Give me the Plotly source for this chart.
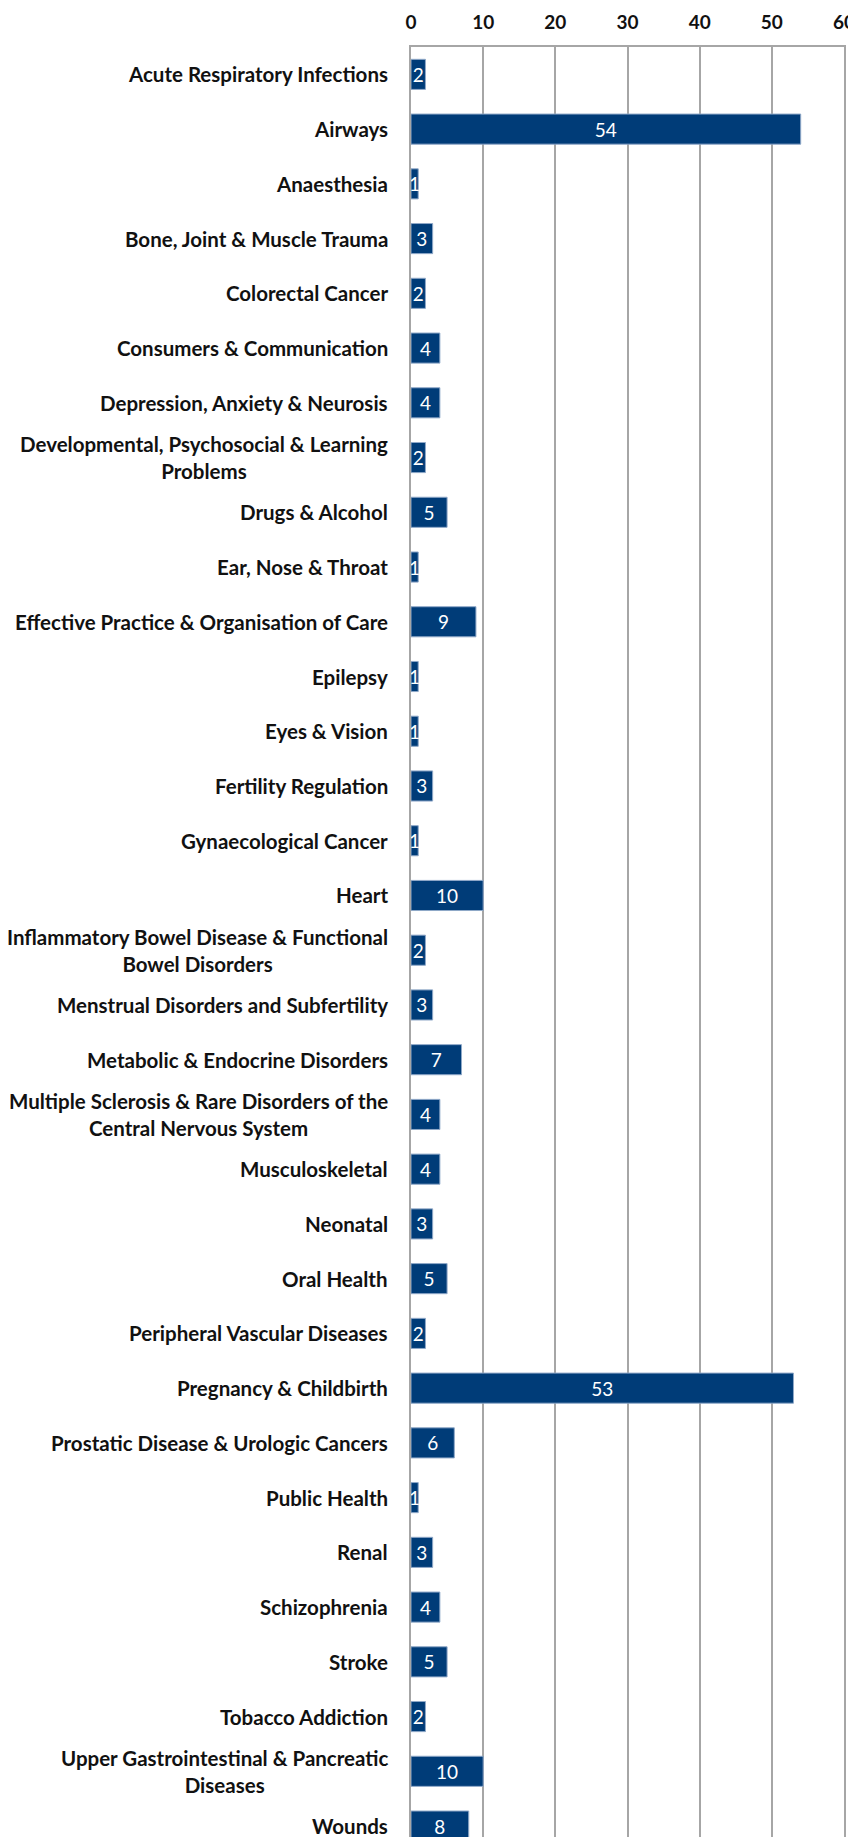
import plotly.graph_objects as go

# categories (top to bottom) and counts
groups = [
    "Acute Respiratory Infections",
    "Airways",
    "Anaesthesia",
    "Bone, Joint & Muscle Trauma",
    "Colorectal Cancer",
    "Consumers & Communication",
    "Depression, Anxiety & Neurosis",
    "Developmental, Psychosocial & Learning<br>Problems",
    "Drugs & Alcohol",
    "Ear, Nose & Throat",
    "Effective Practice & Organisation of Care",
    "Epilepsy",
    "Eyes & Vision",
    "Fertility Regulation",
    "Gynaecological Cancer",
    "Heart",
    "Inflammatory Bowel Disease & Functional<br>Bowel Disorders",
    "Menstrual Disorders and Subfertility",
    "Metabolic & Endocrine Disorders",
    "Multiple Sclerosis & Rare Disorders of the<br>Central Nervous System",
    "Musculoskeletal",
    "Neonatal",
    "Oral Health",
    "Peripheral Vascular Diseases",
    "Pregnancy & Childbirth",
    "Prostatic Disease & Urologic Cancers",
    "Public Health",
    "Renal",
    "Schizophrenia",
    "Stroke",
    "Tobacco Addiction",
    "Upper Gastrointestinal & Pancreatic<br>Diseases",
    "Wounds",
]
counts = [2, 54, 1, 3, 2, 4, 4, 2, 5, 1, 9, 1, 1, 3, 1, 10, 2, 3, 7, 4,
          4, 3, 5, 2, 53, 6, 1, 3, 4, 5, 2, 10, 8]
x_ticks = [0, 10, 20, 30, 40, 50, 60]

BAR = "#003C78"
GRID = "#A6A6A6"
FONT = "Lato"

fig = go.Figure()

fig.add_trace(
    go.Bar(
        x=counts, y=groups, orientation="h",
        marker=dict(color=BAR, line=dict(color="#8FA8C8", width=1)),
        text=[str(c) for c in counts],
        textposition="inside",
        insidetextanchor="middle",
        constraintext="none",
        textfont=dict(family=FONT, size=19, color="white"),
        width=0.55,
        hoverinfo="skip",
    )
)

# category labels, centred lines like the original
for g in groups:
    fig.add_annotation(
        x=0, xref="paper", y=g, yref="y",
        text=g, showarrow=False,
        xanchor="right", yanchor="middle", align="center",
        xshift=-21,
        font=dict(family=FONT, size=20.5, color="#111111", weight="bold"),
    )

fig.update_xaxes(
    side="top", range=[0, 60], tickvals=x_ticks,
    showgrid=True, gridcolor=GRID, gridwidth=2,
    showline=True, linecolor=GRID, linewidth=2,
    zeroline=False,
    tickfont=dict(family=FONT, size=19, color="#111111", weight="bold"),
    ticks="", ticklabelstandoff=8,
    fixedrange=True,
)
fig.update_yaxes(
    range=[32.2, -0.5],
    showticklabels=False, showgrid=False,
    showline=True, linecolor=GRID, linewidth=2, mirror=True,
    zeroline=False, fixedrange=True,
)

# page body adds an 8px margin, so the figure is shifted up/left by 8
fig.update_layout(
    width=848, height=1829,
    margin=dict(l=403, r=12, t=39, b=0),
    plot_bgcolor="white", paper_bgcolor="white",
    showlegend=False,
    font=dict(family=FONT),
)

fig.write_html("out.html")
